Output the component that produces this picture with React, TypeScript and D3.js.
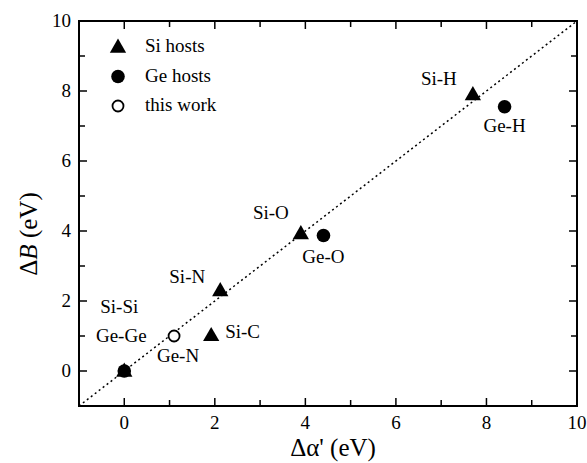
import * as d3 from "d3";
import { useEffect, useRef } from "react";

// bond data (eV)
const siHosts = [
  { name: "Si-H", x: 7.7, y: 7.9 },
  { name: "Si-O", x: 3.9, y: 3.93 },
  { name: "Si-N", x: 2.12, y: 2.3 },
  { name: "Si-C", x: 1.92, y: 1.02 },
  { name: "Si-Si", x: 0, y: 0 },
];
const geHosts = [
  { name: "Ge-H", x: 8.4, y: 7.55 },
  { name: "Ge-O", x: 4.4, y: 3.87 },
  { name: "Ge-Ge", x: 0, y: 0 },
];
const thisWork = [{ name: "Ge-N", x: 1.1, y: 1.0 }];

// label offsets relative to the mark (px)
const labelOffsets: Record<string, [number, number, string]> = {
  "Si-H": [-34, -10, "middle"],
  "Ge-H": [0, 25, "middle"],
  "Si-O": [-30, -14, "middle"],
  "Ge-O": [0, 27, "middle"],
  "Si-N": [-33, -8, "middle"],
  "Si-C": [14, 3, "start"],
  "Si-Si": [-5, -58, "middle"],
  "Ge-Ge": [-3, -29, "middle"],
  "Ge-N": [4, 26, "middle"],
};

const xDomain = [-1, 10];
const yDomain = [-1, 10];
const majorTicks = [0, 2, 4, 6, 8, 10];
const minorTicks = [-1, 1, 3, 5, 7, 9];

const legendItems = [
  { key: "tri", label: "Si hosts" },
  { key: "dot", label: "Ge hosts" },
  { key: "open", label: "this work" },
];

const width = 587;
const height = 463;
const left = 79;
const right = 577;
const top = 21;
const bottom = 406;
const font = "'Liberation Serif', serif";

const triPath = d3.symbol(d3.symbolTriangle, 115)()!;

export default function App() {
  const ref = useRef<SVGSVGElement>(null);

  useEffect(() => {
    if (!ref.current) return;
    const svg = d3.select(ref.current);
    svg.selectAll("*").remove();

    const x = d3.scaleLinear().domain(xDomain).range([left, right]);
    const y = d3.scaleLinear().domain(yDomain).range([bottom, top]);

    // diagonal y = x
    svg
      .append("line")
      .attr("x1", x(-1))
      .attr("y1", y(-1))
      .attr("x2", x(10))
      .attr("y2", y(10))
      .attr("stroke", "#000")
      .attr("stroke-width", 1.5)
      .attr("stroke-dasharray", "2,3");

    // frame
    svg
      .append("rect")
      .attr("x", left)
      .attr("y", top)
      .attr("width", right - left)
      .attr("height", bottom - top)
      .attr("fill", "none")
      .attr("stroke", "#000")
      .attr("stroke-width", 2);

    const ticks = svg.append("g").attr("stroke", "#000").attr("stroke-width", 1.5);
    const allTicks = [
      ...majorTicks.map((v) => ({ v, len: 8 })),
      ...minorTicks.map((v) => ({ v, len: 6 })),
    ];
    allTicks.forEach(({ v, len }) => {
      if (v > xDomain[0] && v < xDomain[1]) {
        ticks.append("line").attr("x1", x(v)).attr("x2", x(v)).attr("y1", bottom).attr("y2", bottom - len);
        ticks.append("line").attr("x1", x(v)).attr("x2", x(v)).attr("y1", top).attr("y2", top + len);
      }
      if (v > yDomain[0] && v < yDomain[1]) {
        ticks.append("line").attr("y1", y(v)).attr("y2", y(v)).attr("x1", left).attr("x2", left + len);
        ticks.append("line").attr("y1", y(v)).attr("y2", y(v)).attr("x1", right).attr("x2", right - len);
      }
    });

    // tick labels
    svg
      .append("g")
      .selectAll("text")
      .data(majorTicks)
      .join("text")
      .attr("x", (d) => x(d))
      .attr("y", bottom + 23)
      .attr("text-anchor", "middle")
      .style("font-family", font)
      .attr("font-size", 19)
      .text((d) => d);

    svg
      .append("g")
      .selectAll("text")
      .data(majorTicks)
      .join("text")
      .attr("x", left - 8)
      .attr("y", (d) => y(d) + 6)
      .attr("text-anchor", "end")
      .style("font-family", font)
      .attr("font-size", 19)
      .text((d) => d);

    // axis titles
    svg
      .append("text")
      .attr("x", 333)
      .attr("y", 456)
      .attr("text-anchor", "middle")
      .style("font-family", font)
      .attr("font-size", 25)
      .text("Δα' (eV)");

    const yt = svg
      .append("text")
      .attr("transform", `translate(37,234) rotate(-90)`)
      .attr("text-anchor", "middle")
      .style("font-family", font)
      .attr("font-size", 25);
    yt.append("tspan").text("Δ");
    yt.append("tspan").attr("font-style", "italic").text("B");
    yt.append("tspan").text(" (eV)");

    // marks
    const marks = svg.append("g");
    marks
      .selectAll("circle.ge")
      .data(geHosts)
      .join("circle")
      .attr("class", "ge")
      .attr("cx", (d) => x(d.x))
      .attr("cy", (d) => y(d.y))
      .attr("r", 6.8)
      .attr("fill", "#000");
    marks
      .selectAll("path.si")
      .data(siHosts)
      .join("path")
      .attr("class", "si")
      .attr("d", triPath)
      .attr("transform", (d) => `translate(${x(d.x)},${y(d.y) + 1})`)
      .attr("fill", "#000");
    marks
      .selectAll("circle.tw")
      .data(thisWork)
      .join("circle")
      .attr("class", "tw")
      .attr("cx", (d) => x(d.x))
      .attr("cy", (d) => y(d.y))
      .attr("r", 5.5)
      .attr("fill", "#fff")
      .attr("stroke", "#000")
      .attr("stroke-width", 1.8);

    // point labels
    const all = [...siHosts, ...geHosts, ...thisWork];
    svg
      .append("g")
      .selectAll("text")
      .data(all)
      .join("text")
      .attr("x", (d) => x(d.x) + labelOffsets[d.name][0])
      .attr("y", (d) => y(d.y) + labelOffsets[d.name][1])
      .attr("text-anchor", (d) => labelOffsets[d.name][2])
      .style("font-family", font)
      .attr("font-size", 19)
      .text((d) => d.name);

    // legend
    const lg = svg.append("g").attr("transform", "translate(118,47)");
    legendItems.forEach((item, i) => {
      const g = lg.append("g").attr("transform", `translate(0,${i * 29.5})`);
      if (item.key === "tri") g.append("path").attr("d", triPath).attr("transform", "translate(0,1)").attr("fill", "#000");
      if (item.key === "dot") g.append("circle").attr("r", 6.8).attr("fill", "#000");
      if (item.key === "open")
        g.append("circle").attr("r", 5.5).attr("fill", "#fff").attr("stroke", "#000").attr("stroke-width", 1.8);
      g.append("text")
        .attr("x", 27)
        .attr("y", 5)
        .style("font-family", font)
        .attr("font-size", 19)
        .text(item.label);
    });
  }, []);

  return (
    <svg
      ref={ref}
      width={width}
      height={height}
      style={{ position: "absolute", left: 0, top: 0, background: "#fff" }}
    />
  );
}
